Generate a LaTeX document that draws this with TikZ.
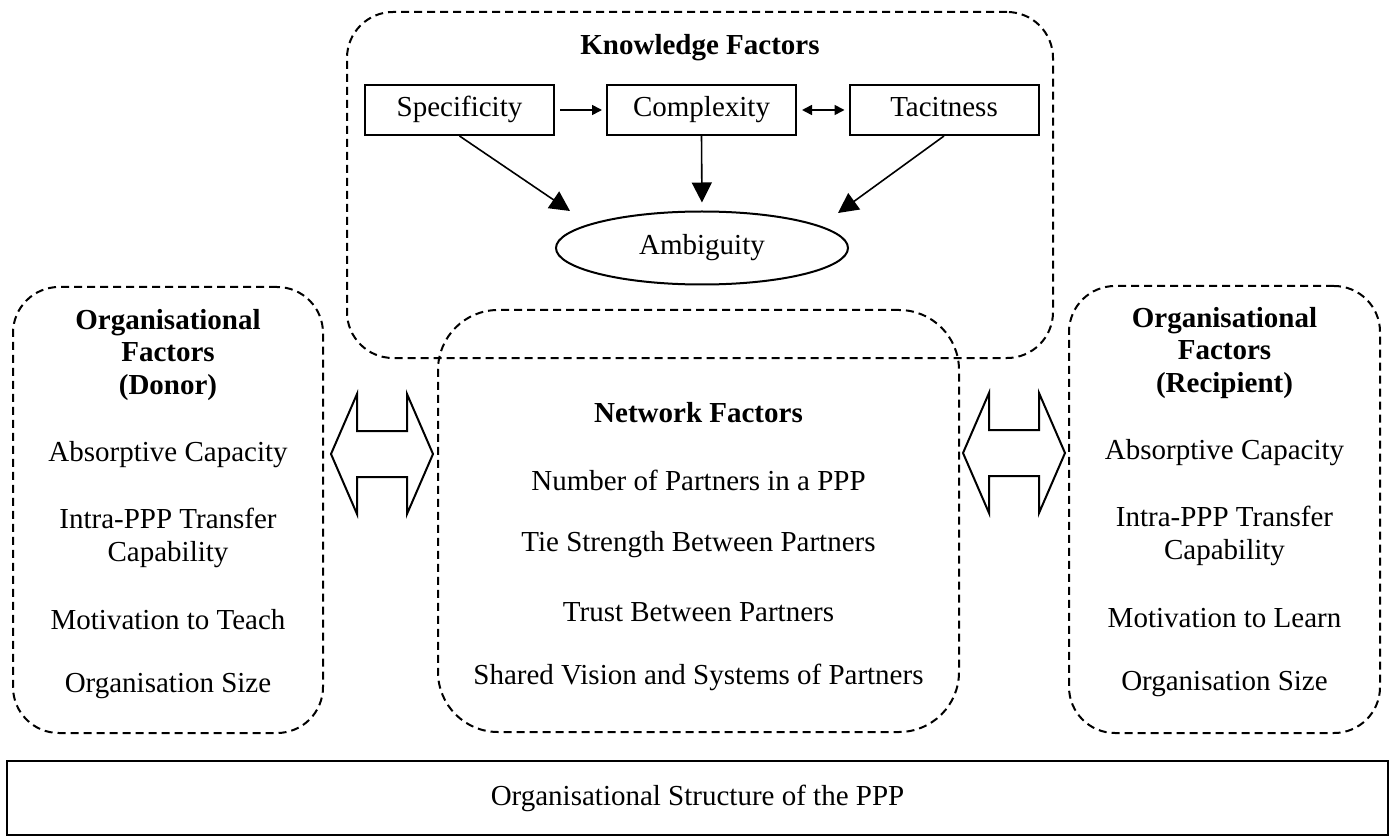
\documentclass[tikz,border=0pt]{standalone}
\usepackage{fontspec}
\setmainfont{Liberation Serif}
\usetikzlibrary{arrows.meta,shapes.geometric,fit}
\newcommand{\fs}{\fontsize{14.5}{16.2}\selectfont}

\begin{document}
\begin{tikzpicture}[
  x=0.5pt, y=-0.5pt,
  font=\fs,
  group/.style={draw, line width=1pt, dash pattern=on 4pt off 2.5pt, rounded corners=23pt, inner sep=0pt},
  kbox/.style={draw, line width=1pt, minimum width=94.5pt, minimum height=25pt, inner sep=0pt, text height=10pt, text depth=3pt},
  oval/.style={draw, ellipse, line width=1pt, minimum width=146pt, minimum height=36.5pt, inner sep=0pt, text height=10pt, text depth=3pt},
  txt/.style={align=center, inner sep=0pt},
  head/.style={txt, font=\fs\bfseries},
  small/.style={-{Triangle[length=5pt,width=5pt]}, line width=0.8pt, shorten <=2.5pt, shorten >=2pt},
  twoway/.style={small, {Triangle[length=5pt,width=5pt]}-{Triangle[length=5pt,width=5pt]}},
  big/.style={-{Triangle[length=10pt,width=10pt]}, line width=0.8pt},
  blockarrow/.style={draw, line width=1pt, line join=miter},
]
  \useasboundingbox (0,0) rectangle (1395,839);

  % dashed groups
  \node[group, fit={(347,12) (1053,358)}] (know) {};
  \node[group, rounded corners=30pt, fit={(438,310) (959,732)}] (net) {};
  \node[group, fit={(13,287) (323,733)}] (donor) {};
  \node[group, fit={(1069,286) (1380,733)}] (recip) {};

  % knowledge factors
  \node[head] (kt) at (700,48) {Knowledge Factors};
  \node[kbox] (spec) at (459.5,110) {Specificity};
  \node[kbox] (comp) at (701.5,110) {Complexity};
  \node[kbox] (tac)  at (944,110) {Tacitness};
  \node[oval] (amb)  at (702,248) {Ambiguity};
  \coordinate (tipa) at (570,211);
  \coordinate (tipc) at (838,213);

  \draw[small] (spec) -- (comp);
  \draw[twoway] (comp) -- (tac);
  \draw[big] (spec.south) -- (tipa);
  \draw[big, shorten >=4pt] (comp.south) -- (amb.north);
  \draw[big] (tac.south) -- (tipc);

  % donor side
  \node[head] (dt) at (168,355) {Organisational\\Factors\\(Donor)};
  \node[txt] (d1) at (168,455) {Absorptive Capacity};
  \node[txt] (d2) at (168,538) {Intra-PPP Transfer\\Capability};
  \node[txt] (d3) at (168,620) {Motivation to Teach};
  \node[txt] (d4) at (168,686) {Organisation Size};

  % network
  \node[head] (nt) at (698.5,413) {Network Factors};
  \node[txt] (n1) at (698.5,480) {Number of Partners in a PPP};
  \node[txt] (n2) at (698.5,545) {Tie Strength Between Partners};
  \node[txt] (n3) at (698.5,612) {Trust Between Partners};
  \node[txt] (n4) at (698.5,677) {Shared Vision and Systems of Partners};

  % recipient side
  \node[head] (rt) at (1224.5,353) {Organisational\\Factors\\(Recipient)};
  \node[txt] (r1) at (1224.5,453) {Absorptive Capacity};
  \node[txt] (r2) at (1224.5,536) {Intra-PPP Transfer\\Capability};
  \node[txt] (r3) at (1224.5,618) {Motivation to Learn};
  \node[txt] (r4) at (1224.5,684) {Organisation Size};

  % block arrows between the groups
  \foreach \cx/\cy in {382/454, 1014/453}
    \draw[blockarrow] (\cx-51,\cy) -- (\cx-25,\cy-60) -- (\cx-25,\cy-23) -- (\cx+25,\cy-23)
      -- (\cx+25,\cy-60) -- (\cx+51,\cy) -- (\cx+25,\cy+60) -- (\cx+25,\cy+23)
      -- (\cx-25,\cy+23) -- (\cx-25,\cy+60) -- cycle;

  % structure
  \node[draw, line width=1.2pt, inner sep=0pt, fit={(7,761) (1388,835)}] (struct) {};
  \node[txt] (st) at (struct.center) {Organisational Structure of the PPP};
\end{tikzpicture}
\end{document}
